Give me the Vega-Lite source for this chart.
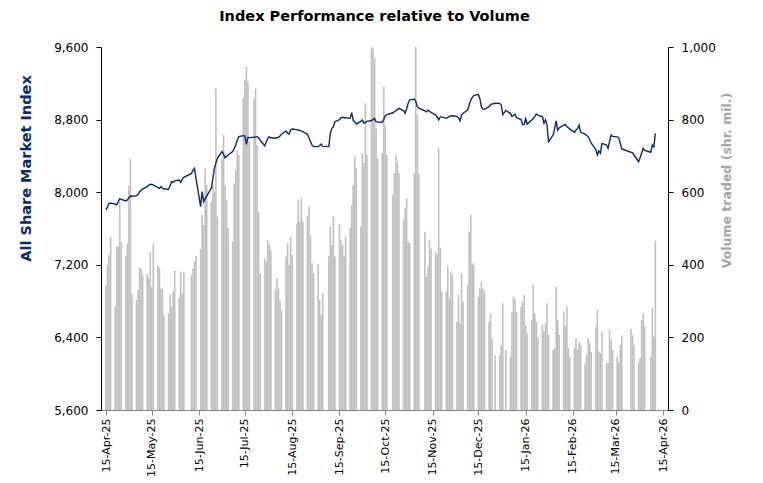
{
  "$schema": "https://vega.github.io/schema/vega-lite/v6.json",
  "width": 567,
  "height": 363,
  "autosize": "none",
  "padding": {"left": 101, "top": 47, "right": 95, "bottom": 73},
  "background": "white",
  "title": {"text": "Index Performance relative to Volume", "font": "DejaVu Sans", "fontSize": 14.5, "fontWeight": "bold", "color": "#000000", "anchor": "middle", "frame": "group", "offset": 17, "dx": -10},
  "config": {"view": {"stroke": null}, "axis": {"grid": false, "labelFont": "DejaVu Sans", "titleFont": "DejaVu Sans"}},
  "data": {"values": [
    {"d":"2025-04-15","v":344,"i":7804},{"d":"2025-04-16","v":400,"i":7840},{"d":"2025-04-17","v":427,"i":7877},{"d":"2025-04-18","v":477,"i":7880},
    {"d":"2025-04-21","v":285,"i":7870},{"d":"2025-04-22","v":452,"i":7859},{"d":"2025-04-23","v":450,"i":7895},{"d":"2025-04-24","v":574,"i":7929},{"d":"2025-04-25","v":462,"i":7920},
    {"d":"2025-04-28","v":424,"i":7903},{"d":"2025-04-29","v":458,"i":7915},{"d":"2025-04-30","v":617,"i":7940},{"d":"2025-05-01","v":693,"i":7958},{"d":"2025-05-02","v":319,"i":7955},
    {"d":"2025-05-05","v":303,"i":7962},{"d":"2025-05-06","v":331,"i":7975},{"d":"2025-05-07","v":393,"i":8006},{"d":"2025-05-08","v":389,"i":8020},{"d":"2025-05-09","v":372,"i":8035},
    {"d":"2025-05-12","v":374,"i":8061},{"d":"2025-05-13","v":363,"i":8079},{"d":"2025-05-14","v":434,"i":8087},{"d":"2025-05-15","v":338,"i":8085},{"d":"2025-05-16","v":458,"i":8080},
    {"d":"2025-05-19","v":398,"i":8050},{"d":"2025-05-20","v":392,"i":8043},{"d":"2025-05-21","v":335,"i":8061},{"d":"2025-05-22","v":335,"i":8045},{"d":"2025-05-23","v":260,"i":8035},
    {"d":"2025-05-26","v":266,"i":8032},{"d":"2025-05-27","v":319,"i":8070},{"d":"2025-05-28","v":285,"i":8116},{"d":"2025-05-29","v":326,"i":8110},{"d":"2025-05-30","v":383,"i":8125},
    {"d":"2025-06-02","v":310,"i":8134},{"d":"2025-06-03","v":381,"i":8109},{"d":"2025-06-04","v":322,"i":8145},{"d":"2025-06-05","v":380,"i":8164},
    {"d":"2025-06-10","v":372,"i":8207},{"d":"2025-06-11","v":390,"i":8240},{"d":"2025-06-12","v":409,"i":8263},{"d":"2025-06-13","v":424,"i":8150},
    {"d":"2025-06-16","v":444,"i":7841},{"d":"2025-06-17","v":537,"i":8006},{"d":"2025-06-18","v":510,"i":7896},{"d":"2025-06-19","v":666,"i":7930},{"d":"2025-06-20","v":620,"i":7960},
    {"d":"2025-06-23","v":574,"i":8043},{"d":"2025-06-24","v":620,"i":8150},{"d":"2025-06-25","v":600,"i":8263},{"d":"2025-06-26","v":886,"i":8320},{"d":"2025-06-27","v":533,"i":8373},
    {"d":"2025-06-30","v":693,"i":8447},{"d":"2025-07-01","v":758,"i":8420},{"d":"2025-07-02","v":620,"i":8380},{"d":"2025-07-03","v":579,"i":8395},{"d":"2025-07-04","v":501,"i":8410},
    {"d":"2025-07-07","v":464,"i":8447},{"d":"2025-07-08","v":624,"i":8480},{"d":"2025-07-09","v":661,"i":8520},{"d":"2025-07-10","v":716,"i":8570},{"d":"2025-07-11","v":702,"i":8612},
    {"d":"2025-07-14","v":860,"i":8623},{"d":"2025-07-15","v":910,"i":8619},{"d":"2025-07-16","v":946,"i":8527},{"d":"2025-07-17","v":905,"i":8605},{"d":"2025-07-18","v":740,"i":8601},
    {"d":"2025-07-21","v":859,"i":8605},{"d":"2025-07-22","v":886,"i":8610},{"d":"2025-07-23","v":730,"i":8612},{"d":"2025-07-24","v":546,"i":8600},{"d":"2025-07-25","v":377,"i":8575},
    {"d":"2025-07-28","v":418,"i":8510},{"d":"2025-07-29","v":409,"i":8550},{"d":"2025-07-30","v":468,"i":8590},{"d":"2025-07-31","v":455,"i":8612},{"d":"2025-08-01","v":440,"i":8600},
    {"d":"2025-08-04","v":331,"i":8595},{"d":"2025-08-05","v":363,"i":8600},{"d":"2025-08-06","v":335,"i":8605},{"d":"2025-08-07","v":300,"i":8620},{"d":"2025-08-08","v":274,"i":8638},
    {"d":"2025-08-11","v":423,"i":8674},{"d":"2025-08-12","v":459,"i":8650},{"d":"2025-08-13","v":400,"i":8640},{"d":"2025-08-14","v":478,"i":8685},{"d":"2025-08-15","v":427,"i":8696},
    {"d":"2025-08-18","v":514,"i":8690},{"d":"2025-08-19","v":580,"i":8685},{"d":"2025-08-20","v":519,"i":8680},{"d":"2025-08-21","v":583,"i":8672},{"d":"2025-08-22","v":519,"i":8667},
    {"d":"2025-08-25","v":535,"i":8638},{"d":"2025-08-26","v":560,"i":8600},{"d":"2025-08-27","v":482,"i":8557},{"d":"2025-08-28","v":404,"i":8520},{"d":"2025-08-29","v":377,"i":8502},
    {"d":"2025-09-01","v":402,"i":8502},{"d":"2025-09-02","v":303,"i":8515},{"d":"2025-09-03","v":262,"i":8531},{"d":"2025-09-04","v":322,"i":8505},
    {"d":"2025-09-08","v":425,"i":8502},{"d":"2025-09-09","v":505,"i":8650},{"d":"2025-09-10","v":455,"i":8704},{"d":"2025-09-11","v":533,"i":8722},{"d":"2025-09-12","v":423,"i":8777},
    {"d":"2025-09-15","v":512,"i":8800},{"d":"2025-09-16","v":468,"i":8821},{"d":"2025-09-17","v":455,"i":8825},{"d":"2025-09-18","v":423,"i":8821},{"d":"2025-09-19","v":478,"i":8821},
    {"d":"2025-09-22","v":501,"i":8814},{"d":"2025-09-23","v":565,"i":8876},{"d":"2025-09-24","v":620,"i":8790},{"d":"2025-09-25","v":698,"i":8777},{"d":"2025-09-26","v":666,"i":8752},
    {"d":"2025-09-29","v":505,"i":8780},{"d":"2025-09-30","v":707,"i":8796},{"d":"2025-10-01","v":680,"i":8759},{"d":"2025-10-02","v":845,"i":8770},{"d":"2025-10-03","v":703,"i":8780},
    {"d":"2025-10-06","v":1000,"i":8790},{"d":"2025-10-07","v":996,"i":8800},{"d":"2025-10-08","v":969,"i":8814},{"d":"2025-10-09","v":776,"i":8775},{"d":"2025-10-10","v":693,"i":8772},
    {"d":"2025-10-13","v":707,"i":8770},{"d":"2025-10-14","v":891,"i":8800},{"d":"2025-10-15","v":785,"i":8843},{"d":"2025-10-16","v":703,"i":8855},
    {"d":"2025-10-20","v":592,"i":8875},{"d":"2025-10-21","v":652,"i":8887},{"d":"2025-10-22","v":703,"i":8900},{"d":"2025-10-23","v":680,"i":8910},{"d":"2025-10-24","v":652,"i":8924},
    {"d":"2025-10-27","v":524,"i":8900},{"d":"2025-10-28","v":556,"i":8869},{"d":"2025-10-29","v":583,"i":8920},{"d":"2025-10-30","v":464,"i":8980},{"d":"2025-10-31","v":460,"i":9016},
    {"d":"2025-11-03","v":652,"i":9027},{"d":"2025-11-04","v":1000,"i":9000},{"d":"2025-11-05","v":813,"i":8943},{"d":"2025-11-06","v":652,"i":8925},
    {"d":"2025-11-10","v":491,"i":8895},{"d":"2025-11-11","v":367,"i":8885},{"d":"2025-11-12","v":395,"i":8906},{"d":"2025-11-13","v":468,"i":8890},{"d":"2025-11-14","v":445,"i":8880},
    {"d":"2025-11-17","v":436,"i":8851},{"d":"2025-11-18","v":430,"i":8832},{"d":"2025-11-19","v":721,"i":8796},{"d":"2025-11-20","v":447,"i":8830},{"d":"2025-11-21","v":326,"i":8830},
    {"d":"2025-11-24","v":326,"i":8814},{"d":"2025-11-25","v":395,"i":8825},{"d":"2025-11-26","v":308,"i":8835},{"d":"2025-11-27","v":381,"i":8840},{"d":"2025-11-28","v":372,"i":8843},
    {"d":"2025-12-01","v":244,"i":8835},{"d":"2025-12-02","v":317,"i":8820},{"d":"2025-12-03","v":239,"i":8785},{"d":"2025-12-04","v":377,"i":8851},{"d":"2025-12-05","v":299,"i":8870},
    {"d":"2025-12-08","v":344,"i":8906},{"d":"2025-12-09","v":491,"i":8960},{"d":"2025-12-10","v":537,"i":9016},{"d":"2025-12-11","v":404,"i":9045},{"d":"2025-12-12","v":400,"i":9064},
    {"d":"2025-12-15","v":312,"i":9078},{"d":"2025-12-16","v":335,"i":9030},{"d":"2025-12-17","v":354,"i":8943},{"d":"2025-12-18","v":335,"i":8915},{"d":"2025-12-19","v":326,"i":8913},
    {"d":"2025-12-22","v":243,"i":8943},{"d":"2025-12-23","v":266,"i":8965},{"d":"2025-12-24","v":197,"i":8972},{"d":"2025-12-26","v":151,"i":8980},
    {"d":"2025-12-29","v":151,"i":8979},{"d":"2025-12-30","v":179,"i":8961},{"d":"2025-12-31","v":294,"i":8855},{"d":"2026-01-02","v":165,"i":8900},
    {"d":"2026-01-05","v":147,"i":8869},{"d":"2026-01-06","v":271,"i":8835},{"d":"2026-01-07","v":312,"i":8845},{"d":"2026-01-08","v":305,"i":8860},{"d":"2026-01-09","v":271,"i":8821},
    {"d":"2026-01-12","v":285,"i":8800},{"d":"2026-01-13","v":299,"i":8745},{"d":"2026-01-14","v":317,"i":8748},{"d":"2026-01-15","v":234,"i":8810},{"d":"2026-01-16","v":211,"i":8750},
    {"d":"2026-01-19","v":248,"i":8796},{"d":"2026-01-20","v":345,"i":8815},{"d":"2026-01-21","v":266,"i":8832},{"d":"2026-01-22","v":244,"i":8862},{"d":"2026-01-23","v":200,"i":8850},
    {"d":"2026-01-26","v":234,"i":8830},{"d":"2026-01-27","v":216,"i":8760},{"d":"2026-01-28","v":239,"i":8800},{"d":"2026-01-29","v":294,"i":8740},{"d":"2026-01-30","v":207,"i":8557},
    {"d":"2026-02-02","v":166,"i":8630},{"d":"2026-02-03","v":170,"i":8700},{"d":"2026-02-04","v":340,"i":8785},{"d":"2026-02-05","v":248,"i":8685},{"d":"2026-02-06","v":207,"i":8710},
    {"d":"2026-02-09","v":271,"i":8740},{"d":"2026-02-10","v":230,"i":8748},{"d":"2026-02-11","v":285,"i":8720},{"d":"2026-02-12","v":170,"i":8710},{"d":"2026-02-13","v":143,"i":8695},
    {"d":"2026-02-16","v":170,"i":8660},{"d":"2026-02-17","v":198,"i":8685},{"d":"2026-02-18","v":166,"i":8700},{"d":"2026-02-19","v":188,"i":8740},{"d":"2026-02-20","v":180,"i":8660},
    {"d":"2026-02-23","v":129,"i":8640},{"d":"2026-02-24","v":152,"i":8625},{"d":"2026-02-25","v":198,"i":8612},{"d":"2026-02-26","v":184,"i":8575},{"d":"2026-02-27","v":160,"i":8540},
    {"d":"2026-03-02","v":230,"i":8470},{"d":"2026-03-03","v":276,"i":8410},{"d":"2026-03-04","v":161,"i":8455},{"d":"2026-03-05","v":156,"i":8430},{"d":"2026-03-06","v":216,"i":8538},
    {"d":"2026-03-09","v":129,"i":8520},{"d":"2026-03-10","v":129,"i":8483},{"d":"2026-03-11","v":221,"i":8560},{"d":"2026-03-12","v":193,"i":8630},{"d":"2026-03-13","v":166,"i":8615},
    {"d":"2026-03-16","v":147,"i":8610},{"d":"2026-03-17","v":133,"i":8601},{"d":"2026-03-18","v":179,"i":8540},{"d":"2026-03-19","v":205,"i":8476},
    {"d":"2026-03-25","v":223,"i":8440},{"d":"2026-03-26","v":207,"i":8436},{"d":"2026-03-27","v":180,"i":8410},
    {"d":"2026-03-30","v":132,"i":8336},{"d":"2026-03-31","v":143,"i":8380},{"d":"2026-04-01","v":248,"i":8430},{"d":"2026-04-02","v":266,"i":8483},{"d":"2026-04-03","v":230,"i":8460},
    {"d":"2026-04-07","v":147,"i":8440},{"d":"2026-04-08","v":280,"i":8520},{"d":"2026-04-09","v":202,"i":8500},{"d":"2026-04-10","v":467,"i":8649}
  ]},
  "encoding": {
    "x": {
      "field": "d", "type": "temporal", "title": null,
      "scale": {"type": "utc", "domain": [{"year": 2025, "month": 4, "date": 15, "utc": true}, {"year": 2026, "month": 4, "date": 15, "utc": true}]},
      "axis": {
        "values": [
          {"year": 2025, "month": 4, "date": 15, "utc": true},
          {"year": 2025, "month": 5, "date": 15, "utc": true},
          {"year": 2025, "month": 6, "date": 15, "utc": true},
          {"year": 2025, "month": 7, "date": 15, "utc": true},
          {"year": 2025, "month": 8, "date": 15, "utc": true},
          {"year": 2025, "month": 9, "date": 15, "utc": true},
          {"year": 2025, "month": 10, "date": 15, "utc": true},
          {"year": 2025, "month": 11, "date": 15, "utc": true},
          {"year": 2025, "month": 12, "date": 15, "utc": true},
          {"year": 2026, "month": 1, "date": 15, "utc": true},
          {"year": 2026, "month": 2, "date": 15, "utc": true},
          {"year": 2026, "month": 3, "date": 15, "utc": true},
          {"year": 2026, "month": 4, "date": 15, "utc": true}
        ],
        "labelExpr": "utcFormat(datum.value, '%d-%b-%y')",
        "labelAngle": 270, "labelFontSize": 11, "labelColor": "#000000",
        "domainColor": "#868686", "tickColor": "#868686", "tickSize": 5, "labelPadding": 3,
        "labelOverlap": false, "labelFlush": false
      }
    }
  },
  "layer": [
    {
      "mark": {"type": "bar", "color": "#C0C0C0", "width": 1.6, "clip": true},
      "encoding": {
        "y": {
          "field": "v", "type": "quantitative",
          "scale": {"domain": [0, 1000], "nice": false, "zero": true},
          "axis": {
            "orient": "right", "values": [0, 200, 400, 600, 800, 1000], "format": ",d",
            "title": "Volume traded (shr. mil.)", "titleAngle": 270, "titleColor": "#A6A6A6", "titleFontSize": 12.5, "titleFontWeight": "bold", "titlePadding": 18,
            "titleY": 133,
            "labelFontSize": 12, "labelColor": "#000000", "labelPadding": 8,
            "domainColor": "#000000", "tickColor": "#000000", "tickSize": 5
          }
        }
      }
    },
    {
      "mark": {"type": "line", "color": "#0A2A6B", "strokeWidth": 1.4},
      "encoding": {
        "y": {
          "field": "i", "type": "quantitative",
          "scale": {"domain": [5600, 9600], "nice": false, "zero": false},
          "axis": {
            "orient": "left", "values": [5600, 6400, 7200, 8000, 8800, 9600], "format": ",d",
            "title": "All Share Market Index", "titleColor": "#0A2A6B", "titleFontSize": 14.5, "titleFontWeight": "bold", "titlePadding": 20,
            "titleY": 121,
            "labelFontSize": 12, "labelColor": "#000000", "labelPadding": 8,
            "domainColor": "#000000", "tickColor": "#000000", "tickSize": 5
          }
        }
      }
    }
  ],
  "resolve": {"scale": {"y": "independent"}}
}
